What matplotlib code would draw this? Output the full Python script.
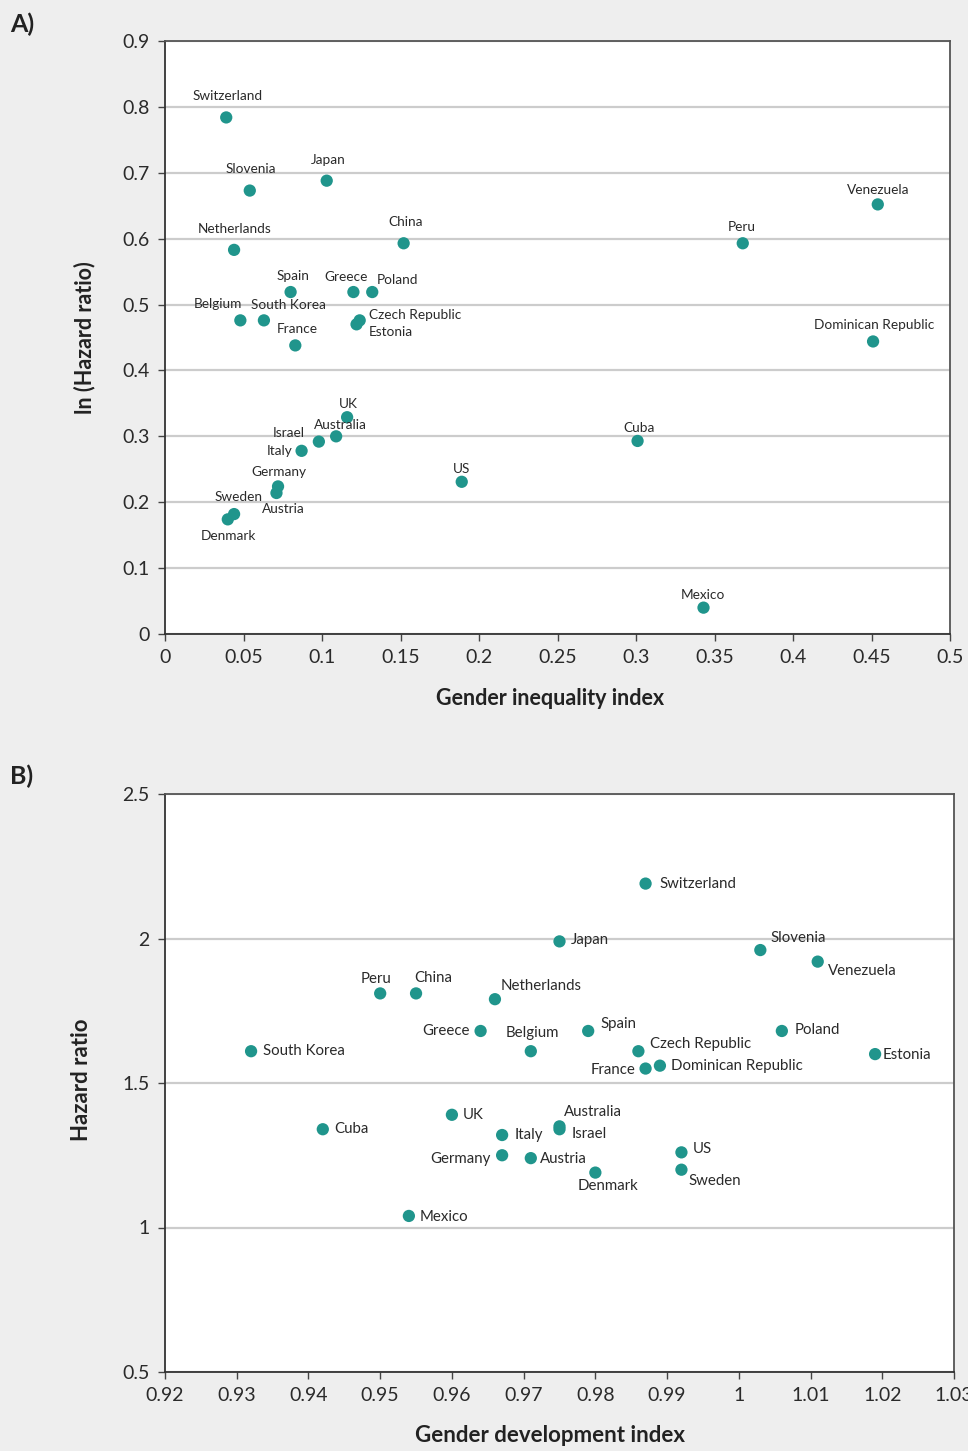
import matplotlib
matplotlib.use('Agg')
import matplotlib.pyplot as plt

# Panel A: gender inequality index vs ln(hazard ratio)
countries_a = ['Switzerland', 'Slovenia', 'Japan', 'Netherlands', 'China', 'Peru',
               'Venezuela', 'Dominican Republic', 'Spain', 'Greece', 'Poland',
               'Belgium', 'South Korea', 'France', 'Czech Republic', 'Estonia',
               'UK', 'Australia', 'Israel', 'Italy', 'Germany', 'Austria',
               'Sweden', 'Denmark', 'US', 'Cuba', 'Mexico']
gii = [0.039, 0.054, 0.103, 0.044, 0.152, 0.368,
       0.454, 0.451, 0.080, 0.120, 0.132,
       0.048, 0.063, 0.083, 0.124, 0.122,
       0.116, 0.109, 0.098, 0.087, 0.072, 0.071,
       0.044, 0.040, 0.189, 0.301, 0.343]
ln_hr = [0.784, 0.673, 0.688, 0.583, 0.593, 0.593,
         0.652, 0.444, 0.519, 0.519, 0.519,
         0.476, 0.476, 0.438, 0.476, 0.470,
         0.329, 0.300, 0.292, 0.278, 0.224, 0.214,
         0.182, 0.174, 0.231, 0.293, 0.040]

# Panel B: gender development index vs hazard ratio
countries_b = ['Switzerland', 'Japan', 'Slovenia', 'Venezuela', 'Peru', 'China',
               'Netherlands', 'Greece', 'Belgium', 'South Korea', 'Spain', 'Poland',
               'Czech Republic', 'France', 'Dominican Republic', 'Estonia', 'UK',
               'Cuba', 'Italy', 'Australia', 'Israel', 'Germany', 'Austria',
               'Denmark', 'US', 'Sweden', 'Mexico']
gdi = [0.987, 0.975, 1.003, 1.011, 0.950, 0.955,
       0.966, 0.964, 0.971, 0.932, 0.979, 1.006,
       0.986, 0.987, 0.989, 1.019, 0.960,
       0.942, 0.967, 0.975, 0.975, 0.967, 0.971,
       0.980, 0.992, 0.992, 0.954]
hr = [2.19, 1.99, 1.96, 1.92, 1.81, 1.81,
      1.79, 1.68, 1.61, 1.61, 1.68, 1.68,
      1.61, 1.55, 1.56, 1.60, 1.39,
      1.34, 1.32, 1.35, 1.34, 1.25, 1.24,
      1.19, 1.26, 1.20, 1.04]

# label offsets in pixels (dx, dy up) and alignment
offs_a = {
    'Switzerland': (1, 21, 'center'), 'Slovenia': (1, 22, 'center'),
    'Japan': (2, 21, 'center'), 'Netherlands': (1, 21, 'center'),
    'China': (2, 21, 'center'), 'Peru': (-1, 16, 'center'),
    'Venezuela': (0, 14, 'center'), 'Dominican Republic': (1, 16, 'center'),
    'Spain': (2, 16, 'center'), 'Greece': (-7, 15, 'center'),
    'Poland': (5, 12, 'left'), 'Belgium': (-22, 16, 'center'),
    'South Korea': (25, 15, 'center'), 'France': (2, 16, 'center'),
    'Czech Republic': (9, 5, 'left'), 'Estonia': (12, -8, 'left'),
    'UK': (1, 13, 'center'), 'Australia': (4, 11, 'center'),
    'Israel': (-30, 9, 'center'), 'Italy': (-9, 0, 'right'),
    'Germany': (1, 14, 'center'), 'Austria': (7, -16, 'center'),
    'Sweden': (4, 17, 'center'), 'Denmark': (1, -17, 'center'),
    'US': (0, 13, 'center'), 'Cuba': (1, 13, 'center'),
    'Mexico': (-1, 13, 'center'),
}
offs_b = {
    'Switzerland': (14, 0, 'left'), 'Japan': (11, 1, 'left'),
    'Slovenia': (10, 12, 'left'), 'Venezuela': (10, -9, 'left'),
    'Peru': (-4, 14, 'center'), 'China': (17, 15, 'center'),
    'Netherlands': (6, 13, 'left'), 'Greece': (-11, 0, 'right'),
    'Belgium': (2, 18, 'center'), 'South Korea': (12, 0, 'left'),
    'Spain': (12, 7, 'left'), 'Poland': (13, 1, 'left'),
    'Czech Republic': (12, 7, 'left'), 'France': (-10, -1, 'right'),
    'Dominican Republic': (11, 0, 'left'), 'Estonia': (8, -1, 'left'),
    'UK': (11, 0, 'left'), 'Cuba': (11, 0, 'left'), 'Italy': (13, 0, 'left'),
    'Australia': (4, 14, 'left'), 'Israel': (12, -5, 'left'),
    'Germany': (-11, -4, 'right'), 'Austria': (9, -1, 'left'),
    'Denmark': (13, -13, 'center'), 'US': (11, 3, 'left'),
    'Sweden': (7, -11, 'left'), 'Mexico': (11, -1, 'left'),
}

TEAL = '#20958c'
TXT = '#2a2a2a'
plt.rcParams.update({'font.family': ['Lato', 'DejaVu Sans'], 'text.color': TXT,
                     'axes.labelcolor': '#222222', 'xtick.color': '#444444',
                     'ytick.color': '#444444', 'xtick.labelcolor': TXT,
                     'ytick.labelcolor': TXT})

fig = plt.figure(figsize=(9.68, 14.51), dpi=100, facecolor='#eeeeee')
ax1 = fig.add_axes([165/968, 1-634/1451, 785/968, 593/1451])
ax2 = fig.add_axes([165/968, 1-1372/1451, 789/968, 578/1451])


def style(ax, fs):
    ax.set_facecolor('white')
    ax.grid(axis='y', color='#cccccc', linewidth=1.6)
    ax.set_axisbelow(True)
    for s in ax.spines.values():
        s.set_color('#555555')
        s.set_linewidth(1.3)
    ax.spines['left'].set_color('#333333')
    ax.spines['bottom'].set_color('#333333')
    ax.tick_params(direction='out', length=5, width=1, labelsize=fs, pad=6)


def labels(ax, xs, ys, names, offs, fs):
    for x, y, n in zip(xs, ys, names):
        dx, dy, ha = offs[n]
        ax.annotate(n, (x, y), xytext=(dx*0.72, dy*0.72), textcoords='offset points',
                    ha=ha, va='center', fontsize=fs, color=TXT)


# A
ax1.scatter(gii, ln_hr, s=78, color=TEAL, edgecolors='none', zorder=3)
labels(ax1, gii, ln_hr, countries_a, offs_a, 9.8)
ax1.set_xlim(0, 0.5)
ax1.set_ylim(0, 0.9)
ax1.set_xticks([0, 0.05, 0.1, 0.15, 0.2, 0.25, 0.3, 0.35, 0.4, 0.45, 0.5])
ax1.set_xticklabels(['0', '0.05', '0.1', '0.15', '0.2', '0.25', '0.3', '0.35',
                     '0.4', '0.45', '0.5'])
ax1.set_yticks([0, 0.1, 0.2, 0.3, 0.4, 0.5, 0.6, 0.7, 0.8, 0.9])
ax1.set_yticklabels(['0', '0.1', '0.2', '0.3', '0.4', '0.5', '0.6', '0.7', '0.8', '0.9'])
style(ax1, 14)
ax1.set_xlabel('Gender inequality index', fontsize=15.5, weight='bold', va='center')
ax1.set_ylabel('ln (Hazard ratio)', fontsize=15.5, weight='bold', va='center')
ax1.xaxis.set_label_coords(0.49, -0.108)
ax1.yaxis.set_label_coords(-0.103, 0.50)

# B
ax2.scatter(gdi, hr, s=78, color=TEAL, edgecolors='none', zorder=3)
labels(ax2, gdi, hr, countries_b, offs_b, 10.8)
ax2.set_xlim(0.92, 1.03)
ax2.set_ylim(0.5, 2.5)
xt = [0.92, 0.93, 0.94, 0.95, 0.96, 0.97, 0.98, 0.99, 1.0, 1.01, 1.02, 1.03]
ax2.set_xticks(xt)
ax2.set_xticklabels(['0.92', '0.93', '0.94', '0.95', '0.96', '0.97', '0.98', '0.99',
                     '1', '1.01', '1.02', '1.03'])
ax2.set_yticks([0.5, 1, 1.5, 2, 2.5])
ax2.set_yticklabels(['0.5', '1', '1.5', '2', '2.5'])
style(ax2, 14)
ax2.set_xlabel('Gender development index', fontsize=16, weight='bold', va='center')
ax2.set_ylabel('Hazard ratio', fontsize=16, weight='bold', va='center')
ax2.xaxis.set_label_coords(0.488, -0.109)
ax2.yaxis.set_label_coords(-0.106, 0.505)

fig.text(10/968, 1-24/1451, 'A)', fontsize=18, weight='bold', va='center', color='#222222')
fig.text(10/968, 1-776/1451, 'B)', fontsize=18, weight='bold', va='center', color='#222222')

fig.savefig('out.png', dpi=100, facecolor=fig.get_facecolor())
